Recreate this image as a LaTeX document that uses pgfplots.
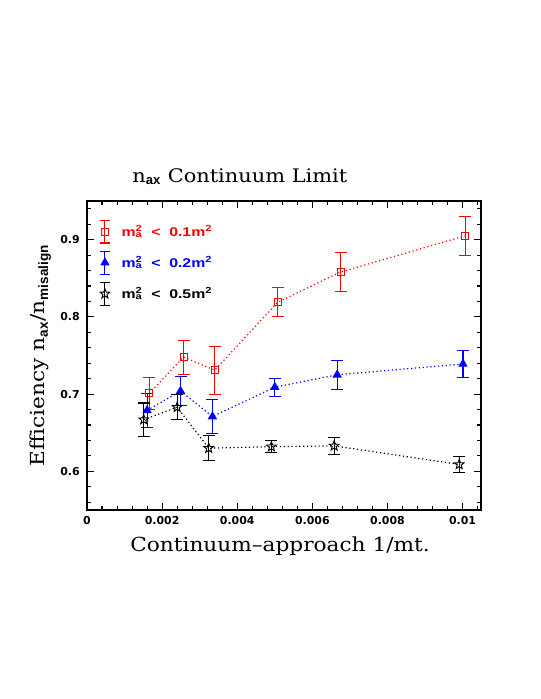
\documentclass[border=0pt]{standalone}
\usepackage{fontspec}
\setmainfont{DejaVu Serif}[FakeStretch=1.12]
\setsansfont{Liberation Sans}
\newfontfamily\tickfont{DejaVu Sans}
\newfontfamily\legfont{Liberation Sans}[FakeStretch=1.25, BoldFeatures={FakeStretch=1.25}]
\usepackage{xcolor}
\usepackage{pgfplots}
\usepackage{pgfplotstable}
\pgfplotsset{compat=1.18}

% open five-pointed star
\pgfdeclareplotmark{ostar}{%
  \pgfpathmoveto{\pgfpointpolar{90}{\pgfplotmarksize}}%
  \pgfpathlineto{\pgfpointpolar{126}{0.42\pgfplotmarksize}}%
  \pgfpathlineto{\pgfpointpolar{162}{\pgfplotmarksize}}%
  \pgfpathlineto{\pgfpointpolar{198}{0.42\pgfplotmarksize}}%
  \pgfpathlineto{\pgfpointpolar{234}{\pgfplotmarksize}}%
  \pgfpathlineto{\pgfpointpolar{270}{0.42\pgfplotmarksize}}%
  \pgfpathlineto{\pgfpointpolar{306}{\pgfplotmarksize}}%
  \pgfpathlineto{\pgfpointpolar{342}{0.42\pgfplotmarksize}}%
  \pgfpathlineto{\pgfpointpolar{18}{\pgfplotmarksize}}%
  \pgfpathlineto{\pgfpointpolar{54}{0.42\pgfplotmarksize}}%
  \pgfpathclose
  \pgfusepathqstroke
}

\pgfplotstableread{
x       y      ey
0.00166 0.701  0.021
0.00257 0.748  0.022
0.00340 0.731  0.031
0.00508 0.819  0.019
0.00675 0.858  0.025
0.01007 0.905  0.0255
}\redtab
\pgfplotstableread{
x       y      ey
0.00160 0.679  0.022
0.00249 0.704  0.019
0.00334 0.671  0.022
0.00500 0.709  0.0117
0.00666 0.725  0.019
0.01001 0.739  0.017
}\bluetab
\pgfplotstableread{
x       y      ey
0.00151 0.667  0.0215
0.00240 0.683  0.016
0.00324 0.630  0.016
0.00491 0.632  0.0078
0.00658 0.633  0.011
0.00991 0.609  0.010
}\blacktab

\newcommand{\msq}{m\rlap{\textsuperscript{2}}\textsubscript{a}}

\begin{document}
\begin{tikzpicture}
\useasboundingbox (-65.25pt,-141.75pt) rectangle (339.75pt,382.5pt);
\begin{axis}[
  at={(0pt,0pt)}, anchor=south west, scale only axis,
  width=295.5pt, height=231.75pt,
  xmin=0, xmax=0.01049, ymin=0.55, ymax=0.95,
  xtick={0,0.002,0.004,0.006,0.008,0.01},
  ytick={0.6,0.7,0.8,0.9},
  minor xtick={0.0004,0.0008,0.0012,0.0016,0.0024,0.0028,0.0032,0.0036,0.0044,0.0048,0.0052,0.0056,0.0064,0.0068,0.0072,0.0076,0.0084,0.0088,0.0092,0.0096,0.0104},
  minor ytick={0.56,0.58,0.62,0.64,0.66,0.68,0.72,0.74,0.76,0.78,0.82,0.84,0.86,0.88,0.92,0.94},
  scaled x ticks=false, scaled y ticks=false,
  /pgf/number format/assume math mode=true,
  xticklabel style={/pgf/number format/fixed, /pgf/number format/precision=3, yshift=-1pt},
  yticklabel style={xshift=-2pt},
  tick label style={font=\tickfont\bfseries\fontsize{8.2}{10}\selectfont, black},
  major tick length=5.5pt, minor tick length=3pt,
  axis line style={line width=0.9pt},
  every tick/.style={black, line width=0.8pt},
  title={n\textsubscript{\sffamily\bfseries ax} Continuum Limit},
  title style={at={(axis description cs:0.388,1.0356)}, anchor=base, font=\fontsize{14}{16}\selectfont},
  xlabel={Continuum--approach 1/mt.},
  xlabel style={at={(axis description cs:0.49,-0.135)}, anchor=base, font=\fontsize{14.5}{16}\selectfont},
  ylabel={Efficiency n\textsubscript{\sffamily\bfseries ax}/n\textsubscript{\sffamily\bfseries misalign}},
  ylabel style={at={(axis description cs:-0.1066,0.5)}, anchor=base, font=\fontsize{14.5}{16}\selectfont},
  legend cell align=left,
  legend style={draw=none, fill=none, at={(axis description cs:0.03,0.94)}, anchor=north west,
    font=\legfont\bfseries\fontsize{9.5}{11}\selectfont, row sep=5.5pt, inner sep=0pt},
  legend image code/.code={%
    \draw[#1,solid,line width=0.8pt] (0pt,-8.5pt) -- (0pt,8.5pt)
      (-4pt,-8.5pt) -- (4pt,-8.5pt) (-4pt,8.5pt) -- (4pt,8.5pt);
    \draw[#1,solid,only marks] plot coordinates {(0pt,0pt)};
    \path (10pt,0pt);
  },
  error bars/y dir=both, error bars/y explicit,
  error bars/error bar style={solid, line width=0.8pt},
  error bars/error mark options={solid, rotate=90, mark size=4.5pt, line width=0.8pt},
]
\addplot[red, dotted, line width=0.9pt, mark=square, mark size=2.6pt, mark options={solid, line width=0.7pt}]
  table[x=x, y=y, y error=ey] {\redtab};
\addlegendentry{\textcolor{red}{\msq\ \ <\ \ 0.1m\textsuperscript{2}}}
\addplot[blue, dotted, line width=0.9pt, mark=triangle*, mark size=3.2pt, mark options={solid, fill=blue}]
  table[x=x, y=y, y error=ey] {\bluetab};
\addlegendentry{\textcolor{blue}{\msq\ \ <\ \ 0.2m\textsuperscript{2}}}
\addplot[black, dotted, line width=0.9pt, mark=ostar, mark size=3.8pt, mark options={solid, line width=0.7pt}]
  table[x=x, y=y, y error=ey] {\blacktab};
\addlegendentry{\msq\ \ <\ \ 0.5m\textsuperscript{2}}
\end{axis}
\end{tikzpicture}
\end{document}
